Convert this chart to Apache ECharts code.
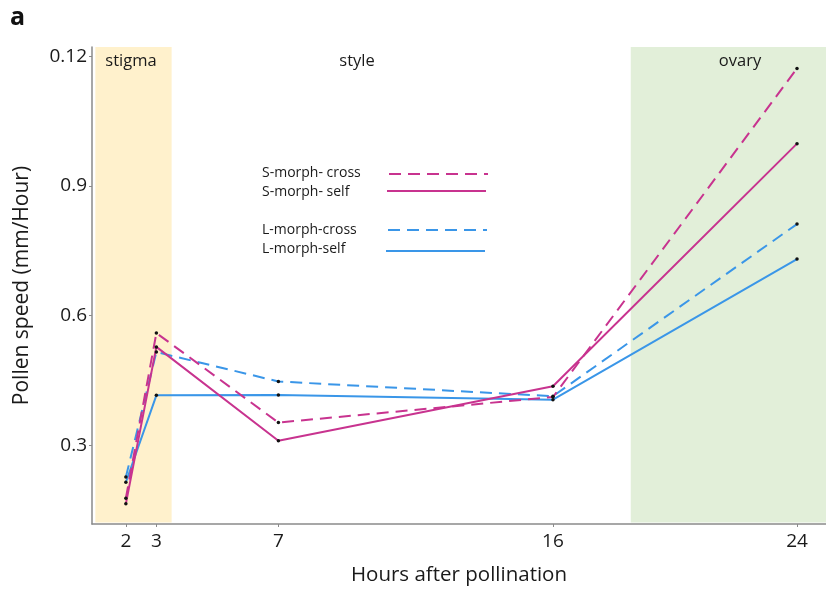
<!DOCTYPE html>
<html>
<head>
<meta charset="utf-8">
<script src="https://cdn.jsdelivr.net/npm/echarts@6/dist/echarts.min.js"></script>
<style>
  html, body { margin: 0; padding: 0; background: #fff; }
  #chart { width: 826px; height: 591px; }
</style>
</head>
<body>
<div id="chart"></div>
<script>
// Sampling times (hours after pollination)
const hours = [2, 3, 7, 16, 24];

// Pollen tube growth speed (mm/hour) per morph and pollination type
const sMorphCross = [0.178, 0.560, 0.353, 0.412, 1.172];
const sMorphSelf  = [0.165, 0.528, 0.311, 0.437, 0.998];
const lMorphCross = [0.227, 0.516, 0.448, 0.414, 0.812];
const lMorphSelf  = [0.215, 0.416, 0.417, 0.406, 0.731];

// Axis ticks and their printed labels
const xTickValues = [2, 3, 7, 16, 24];
const yTickValues = [0.3, 0.6, 0.9, 1.2];
const yTickLabels = ['0.3', '0.6', '0.9', '0.12'];

// Pistil regions shaded behind the lines
const stigmaRange = [1.0, 3.5];
const ovaryRange = [18.55, 25];

const MAGENTA = '#C8338F';
const BLUE = '#3A96E8';
const FONT = '"Open Sans", "Noto Sans", sans-serif';

const pairs = arr => hours.map((h, i) => [h, arr[i]]);

function lineSeries(name, data, color, dashed) {
  return {
    name: name,
    type: 'line',
    data: pairs(data),
    symbol: 'circle',
    symbolSize: 3.5,
    showSymbol: true,
    itemStyle: { color: '#111' },
    lineStyle: { color: color, width: 2, type: dashed ? [12, 7] : 'solid' },
    emphasis: { disabled: true },
    z: 3
  };
}

function label(text, x, y, size, extra) {
  return {
    type: 'text', x: x, y: y, z: 100,
    style: Object.assign({ text: text, font: size + 'px ' + FONT, fill: '#1a1a1a', verticalAlign: 'middle' }, extra || {})
  };
}

function legendLine(x1, x2, y, color, dashed) {
  return {
    type: 'line', z: 100,
    shape: { x1: x1, y1: y, x2: x2, y2: y },
    style: { stroke: color, lineWidth: 2, lineDash: dashed ? [12, 7] : null }
  };
}

const chart = echarts.init(document.getElementById('chart'));

const option = {
  animation: false,
  grid: { left: 92, right: 0, top: 47, bottom: 66 },
  xAxis: {
    type: 'value',
    min: 0.89,
    max: 24.95,
    name: 'Hours after pollination',
    nameLocation: 'middle',
    nameGap: 41,
    nameTextStyle: { fontFamily: FONT, fontSize: 20.5, color: '#1a1a1a' },
    splitLine: { show: false },
    axisLine: { show: true, lineStyle: { color: '#8a8a8a', width: 1.5 } },
    axisTick: { show: true, customValues: xTickValues, length: 3, lineStyle: { color: '#8a8a8a' } },
    axisLabel: {
      customValues: xTickValues,
      margin: 8,
      fontFamily: FONT, fontSize: 19, color: '#1a1a1a'
    }
  },
  yAxis: {
    type: 'value',
    min: 0.1184,
    max: 1.2215,
    name: 'Pollen speed (mm/Hour)',
    nameLocation: 'middle',
    nameGap: 59,
    nameTextStyle: { fontFamily: FONT, fontSize: 21, color: '#1a1a1a' },
    splitLine: { show: false },
    axisLine: { show: true, lineStyle: { color: '#8a8a8a', width: 1.5 } },
    axisTick: { show: true, customValues: yTickValues, length: 3, lineStyle: { color: '#8a8a8a' } },
    axisLabel: {
      customValues: yTickValues,
      margin: 5,
      fontFamily: FONT, fontSize: 19, color: '#1a1a1a',
      formatter: v => {
        const i = yTickValues.findIndex(t => Math.abs(t - v) < 1e-6);
        return i >= 0 ? yTickLabels[i] : '';
      }
    }
  },
  series: [
    {
      type: 'line',
      data: [],
      silent: true,
      markArea: {
        silent: true,
        label: { show: false },
        data: [
          [
            { xAxis: stigmaRange[0], yAxis: 0.122, itemStyle: { color: '#FFF1CC' } },
            { xAxis: stigmaRange[1], yAxis: 1.2215 }
          ],
          [
            { xAxis: ovaryRange[0], yAxis: 0.122, itemStyle: { color: '#E2EFD9' } },
            { xAxis: ovaryRange[1], yAxis: 1.2215 }
          ]
        ]
      },
      z: 1
    },
    lineSeries('L-morph-self', lMorphSelf, BLUE, false),
    lineSeries('L-morph-cross', lMorphCross, BLUE, true),
    lineSeries('S-morph- self', sMorphSelf, MAGENTA, false),
    lineSeries('S-morph- cross', sMorphCross, MAGENTA, true)
  ],
  graphic: [
    { type: 'text', left: 10, top: 5, z: 100, style: { text: 'a', font: 'bold 25px ' + FONT, fill: '#111' } },
    // region labels
    label('stigma', 131, 61, 16.5, { align: 'center' }),
    label('style', 357, 61, 16.5, { align: 'center' }),
    label('ovary', 740, 61, 16.5, { align: 'center' }),
    // legend
    label('S-morph- cross', 262, 173, 14),
    label('S-morph- self', 262, 192, 14),
    label('L-morph-cross', 262, 230, 14),
    label('L-morph-self', 262, 249, 14),
    legendLine(389, 488, 174, MAGENTA, true),
    legendLine(387, 486, 191, MAGENTA, false),
    legendLine(388, 487, 230, BLUE, true),
    legendLine(386, 485, 251, BLUE, false)
  ]
};

chart.setOption(option);
</script>
</body>
</html>
